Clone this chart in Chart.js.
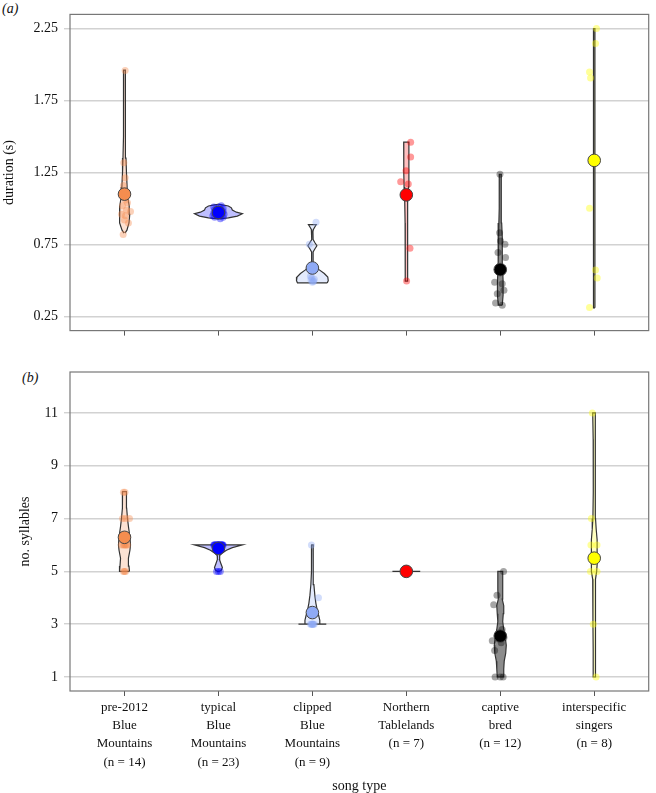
<!DOCTYPE html>
<html>
<head>
<meta charset="utf-8">
<title>Song types</title>
<script src="https://cdn.jsdelivr.net/npm/chart.js@4.4.1/dist/chart.umd.min.js"></script>
<style>
  body { margin: 0; background: #fff; width: 656px; height: 793px; overflow: hidden; position: relative; font-family: 'Liberation Serif', 'Times New Roman', serif; }
  #wrapA { position: absolute; left: 0; top: 0; width: 656px; height: 345px; }
  #wrapB { position: absolute; left: 0; top: 345px; width: 656px; height: 448px; }
  .tag { position: absolute; font-style: italic; font-size: 14px; line-height: 14px; color: #111; }
</style>
</head>
<body>
<div class="tag" style="left:2px;top:2px">(a)</div>
<div class="tag" style="left:22px;top:371px">(b)</div>
<div id="wrapA"><canvas id="durationChart"></canvas></div>
<div id="wrapB"><canvas id="syllableChart"></canvas></div>

<script>
// ---- categories ----
const songTypes = [
  ['pre-2012', 'Blue', 'Mountains', '(n = 14)'],
  ['typical', 'Blue', 'Mountains', '(n = 23)'],
  ['clipped', 'Blue', 'Mountains', '(n = 9)'],
  ['Northern', 'Tablelands', '(n = 7)'],
  ['captive', 'bred', '(n = 12)'],
  ['interspecific', 'singers', '(n = 8)']
];

// ---- (a) duration (s) ----
const durationTicks = [0.25, 0.75, 1.25, 1.75, 2.25];
const durationMeans = [1.10, 0.973, 0.588, 1.095, 0.577, 1.334];
const durationValues = [
  [1.957, 1.318, 1.214, 1.16, 1.06, 1.04, 1.02, 0.99, 0.98, 0.96, 0.95, 0.92, 0.90, 0.82],
  [0.93, 0.94, 0.94, 0.95, 0.95, 0.96, 0.96, 0.96, 0.97, 0.97, 0.97, 0.97, 0.98, 0.98, 0.98, 0.99, 0.99, 1.0, 1.0, 1.01, 1.01, 1.02, 0.95],
  [0.905, 0.752, 0.52, 0.505, 0.494, 0.49, 0.51, 0.53, 0.50],
  [1.46, 1.358, 1.262, 1.186, 1.17, 0.725, 0.497],
  [1.238, 0.832, 0.775, 0.752, 0.695, 0.661, 0.49, 0.478, 0.433, 0.41, 0.346, 0.33],
  [2.248, 2.145, 1.947, 1.905, 1.003, 0.574, 0.519, 0.314]
];
// horizontal jitter of each dot, in category units
const durationJitter = [
  [0.007, -0.007, 0.007, -0.011, 0.011, 0.032, -0.021, 0.021, 0.064, -0.032, 0.011, 0, 0.042, -0.014],
  [0.02, -0.04, 0.05, -0.06, 0.03, -0.02, 0.06, 0.01, -0.05, -0.01, 0.04, 0.02, -0.03, 0.05, 0, -0.04, 0.03, -0.02, 0.05, -0.05, 0.01, 0.03, 0],
  [0.039, -0.032, -0.007, -0.014, 0.011, 0, 0.021, -0.021, 0.011],
  [0.046, 0.046, -0.003, -0.06, 0.021, 0.039, 0.003],
  [-0.003, -0.007, 0.003, 0.05, -0.024, 0.056, -0.06, 0.021, 0.039, -0.032, -0.05, 0.021],
  [0.024, 0.014, -0.05, -0.039, -0.05, 0.014, 0.032, -0.05]
];
// violin outlines: [value, half width in category units]
const durationViolins = [
  [[0.83, 0.005], [0.85, 0.026], [0.9, 0.048], [0.96, 0.056], [1.02, 0.050], [1.08, 0.035], [1.15, 0.028], [1.25, 0.021], [1.35, 0.016], [1.5, 0.012], [1.7, 0.009], [1.96, 0.009]],
  [[0.928, 0.005], [0.935, 0.106], [0.948, 0.201], [0.964, 0.254], [0.975, 0.191], [0.99, 0.148], [1.005, 0.138], [1.018, 0.106], [1.026, 0.042], [1.03, 0.005]],
  [[0.485, 0.159], [0.5, 0.169], [0.525, 0.164], [0.55, 0.127], [0.575, 0.074], [0.6, 0.032], [0.63, 0.008], [0.7, 0.008], [0.72, 0.026], [0.742, 0.048], [0.765, 0.026], [0.785, 0.008], [0.84, 0.006], [0.855, 0.011], [0.872, 0.026], [0.889, 0.042]],
  [[0.497, 0.011], [0.7, 0.012], [0.9, 0.013], [1.05, 0.017], [1.15, 0.024], [1.25, 0.028], [1.35, 0.026], [1.46, 0.028]],
  [[0.33, 0.021], [0.4, 0.030], [0.5, 0.030], [0.6, 0.024], [0.7, 0.024], [0.8, 0.019], [0.9, 0.015], [1.0, 0.012], [1.1, 0.010], [1.238, 0.010]],
  [[0.312, 0.008], [1.0, 0.008], [1.5, 0.008], [2.0, 0.007], [2.248, 0.007]]
];

// ---- (b) no. syllables ----
const syllableTicks = [1, 3, 5, 7, 9, 11];
const syllableMeans = [6.29, 5.87, 3.44, 5.0, 2.55, 5.5];
const syllableValues = [
  [8, 8, 7, 7, 7, 6, 6, 6, 6, 6, 6, 5, 5, 5],
  [6, 6, 6, 6, 6, 6, 6, 6, 6, 6, 6, 6, 6, 6, 6, 6, 6, 6, 6, 6, 5, 5, 5],
  [6, 4, 3, 3, 3, 3, 3, 3, 3],
  [5, 5, 5, 5, 5, 5, 5],
  [5, 4.1, 3.74, 2.8, 2.6, 2.5, 2.37, 2.3, 2.0, 1, 1, 1],
  [11, 7, 6, 6, 5, 5, 3, 1]
];
const syllableJitter = [
  [0.005, -0.011, 0.053, -0.021, 0.011, -0.011, 0.011, -0.032, 0.032, 0, 0.021, 0, -0.011, 0.011],
  [-0.05, -0.03, -0.01, 0.01, 0.03, 0.05, -0.04, -0.02, 0, 0.02, 0.04, -0.045, -0.015, 0.015, 0.045, -0.025, 0.025, -0.005, 0.005, 0.035, -0.02, 0, 0.02],
  [-0.01, 0.065, -0.02, -0.01, 0, 0.01, 0.02, -0.005, 0.005],
  [-0.02, -0.01, 0, 0.01, 0.02, -0.005, 0.005],
  [0.035, -0.035, -0.07, 0.02, -0.03, 0.04, -0.085, 0.01, -0.06, -0.055, 0.03, 0],
  [-0.02, -0.03, -0.035, 0.03, -0.04, 0.03, -0.01, 0.02]
];
const syllableViolins = [
  [[5.0, 0.053], [5.2, 0.048], [5.5, 0.042], [5.8, 0.058], [6.0, 0.064], [6.3, 0.058], [6.7, 0.042], [7.0, 0.032], [7.4, 0.023], [7.8, 0.021], [8.02, 0.021]],
  [[5.0, 0.011], [5.05, 0.032], [5.15, 0.042], [5.3, 0.026], [5.45, 0.011], [5.6, 0.013], [5.7, 0.042], [5.8, 0.085], [5.9, 0.148], [6.0, 0.254]],
  [[3.0, 0.148], [3.005, 0.079], [3.15, 0.079], [3.3, 0.069], [3.5, 0.053], [3.8, 0.037], [4.1, 0.026], [4.5, 0.016], [5.0, 0.011], [5.5, 0.008], [6.0, 0.008]],
  [[5.0, 0.148]],
  [[1.0, 0.032], [1.3, 0.037], [1.6, 0.042], [1.9, 0.058], [2.2, 0.064], [2.5, 0.053], [2.8, 0.037], [3.1, 0.026], [3.4, 0.032], [3.7, 0.037], [3.95, 0.021], [4.3, 0.026], [4.7, 0.026], [5.0, 0.026]],
  [[1.0, 0.011], [2, 0.011], [3, 0.013], [4, 0.014], [4.7, 0.016], [5.0, 0.026], [5.3, 0.032], [5.7, 0.032], [6.2, 0.030], [6.6, 0.021], [7.0, 0.014], [8, 0.010], [9, 0.010], [10, 0.011], [11, 0.016]]
];

// one colour per song type
const palette = [[245, 141, 79], [0, 0, 255], [143, 170, 245], [255, 0, 0], [0, 0, 0], [255, 255, 0]];
const rgba = (c, a) => `rgba(${c[0]}, ${c[1]}, ${c[2]}, ${a})`;

const serif = "'Liberation Serif', 'Times New Roman', serif";
const textColor = '#111';

// closed outline around a category centre: up the right side, back down the left
function violinPoints(i, profile) {
  const right = profile.map(([v, w]) => ({ x: i + w, y: v }));
  const left = profile.slice().reverse().map(([v, w]) => ({ x: i - w, y: v }));
  return [...right, ...left, right[0]];
}

// grey box round the plot area
const frame = {
  id: 'frame',
  afterDatasetsDraw(chart) {
    const { ctx, chartArea: a } = chart;
    ctx.save();
    ctx.strokeStyle = '#777';
    ctx.lineWidth = 1.2;
    ctx.strokeRect(a.left, a.top, a.right - a.left, a.bottom - a.top);
    ctx.restore();
  }
};

function buildPanel(canvas, cfg) {
  const datasets = [];

  cfg.violins.forEach((profile, i) => {
    datasets.push({
      type: 'line',
      data: violinPoints(i, profile),
      fill: 'shape',
      backgroundColor: rgba(palette[i], i === 4 ? 0.45 : 0.25),
      borderColor: '#333',
      borderWidth: 1.2,
      tension: 0,
      pointRadius: 0,
      order: 3
    });
  });

  cfg.values.forEach((vals, i) => {
    datasets.push({
      type: 'scatter',
      data: vals.map((v, k) => ({ x: i + cfg.jitter[i][k], y: v })),
      backgroundColor: rgba(palette[i], i === 4 ? 0.35 : 0.4),
      borderWidth: 0,
      pointRadius: 3.5,
      order: 2
    });
  });

  // group means
  datasets.push({
    type: 'scatter',
    data: cfg.means.map((m, i) => ({ x: i, y: m })),
    backgroundColor: palette.map(c => rgba(c, 1)),
    borderColor: '#444',
    borderWidth: 1,
    pointRadius: 6.3,
    order: 1
  });

  return new Chart(canvas.getContext('2d'), {
    type: 'scatter',
    data: { datasets },
    plugins: [frame],
    options: {
      responsive: true,
      maintainAspectRatio: false,
      animation: false,
      layout: { padding: { top: cfg.padTop, right: 3, left: 0, bottom: 0 } },
      plugins: { legend: { display: false }, tooltip: { enabled: false } },
      scales: {
        x: {
          type: 'linear',
          min: -0.58,
          max: 5.58,
          afterBuildTicks: s => { s.ticks = songTypes.map((_, i) => ({ value: i })); },
          afterFit: s => { s.height = cfg.xHeight; },
          border: { display: false },
          grid: { drawOnChartArea: false, drawTicks: true, tickLength: 5, color: '#555', lineWidth: 1 },
          ticks: {
            display: cfg.showLabels,
            autoSkip: false,
            maxRotation: 0,
            padding: 2,
            color: textColor,
            font: { family: serif, size: 13, lineHeight: 1.41 },
            callback: v => cfg.showLabels ? songTypes[Math.round(v)] : ''
          },
          title: {
            display: cfg.showLabels,
            text: 'song type',
            color: textColor,
            padding: { top: 0, bottom: 0 },
            font: { family: serif, size: 14, lineHeight: 1 }
          }
        },
        y: {
          min: cfg.yMin,
          max: cfg.yMax,
          afterBuildTicks: s => { s.ticks = cfg.ticks.map(v => ({ value: v })); },
          afterFit: s => { s.width = 70; },
          border: { display: false },
          grid: { color: '#d2d2d2', lineWidth: 1.4, tickLength: 6 },
          ticks: {
            padding: 6,
            color: textColor,
            font: { family: serif, size: 14 },
            callback: v => cfg.fmt(v)
          },
          title: {
            display: true,
            text: cfg.yTitle,
            color: textColor,
            padding: { top: cfg.titlePad, bottom: 0 },
            font: { family: serif, size: 14 }
          }
        }
      }
    }
  });
}

buildPanel(document.getElementById('durationChart'), {
  violins: durationViolins,
  values: durationValues,
  jitter: durationJitter,
  means: durationMeans,
  ticks: durationTicks,
  yMin: 0.154,
  yMax: 2.346,
  yTitle: 'duration (s)',
  titlePad: 1,
  fmt: v => v.toFixed(2),
  padTop: 14,
  xHeight: 12,
  showLabels: false
});

buildPanel(document.getElementById('syllableChart'), {
  violins: syllableViolins,
  values: syllableValues,
  jitter: syllableJitter,
  means: syllableMeans,
  ticks: syllableTicks,
  yMin: 0.47,
  yMax: 12.55,
  yTitle: 'no. syllables',
  titlePad: 17,
  fmt: v => String(v),
  padTop: 27,
  xHeight: 102,
  showLabels: true
});
</script>
</body>
</html>
